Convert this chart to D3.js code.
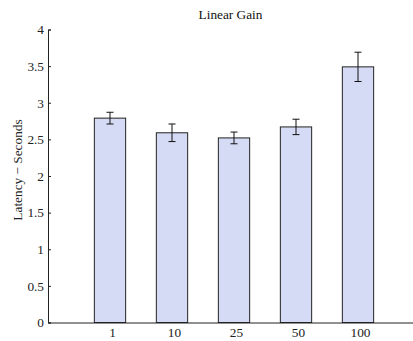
<!DOCTYPE html>
<html><head><meta charset="utf-8">
<script src="https://cdn.jsdelivr.net/npm/d3@7"></script>
<style>body{margin:0;background:#fff}svg{display:block}text{font-family:"Liberation Serif","Times New Roman",serif}</style>
</head><body>
<script>
const categories = ["1","10","25","50","100"];
const values = [2.79, 2.59, 2.52, 2.67, 3.49];
const errors = [0.08, 0.12, 0.08, 0.105, 0.2];
const yTicks = [0,0.5,1,1.5,2,2.5,3,3.5,4];
const yTickLabels = ["0","0.5","1","1.5","2","2.5","3","3.5","4"];

(function(){
const W=413,H=341;
const svg=d3.select("body").append("svg").attr("width",W).attr("height",H);
const mLeft=48, mRight=420, mTop=29.5, mBottom=322.5;
const x=d3.scaleLinear().domain([0,6]).range([mLeft,mRight]);
const y=d3.scaleLinear().domain([0,4]).range([mBottom,mTop]);
const bw=x(0.505)-x(0);
const fs=13.3;

svg.selectAll("rect.bar").data(values).join("rect").attr("class","bar")
  .attr("x",(d,i)=>x(i+1)-bw/2).attr("y",d=>y(d))
  .attr("width",bw).attr("height",d=>y(0)-y(d))
  .attr("fill","#d5dbf4").attr("stroke","#222").attr("stroke-width",1);

const eg=svg.append("g").attr("stroke","#111").attr("stroke-width",1);
values.forEach((v,i)=>{
  const cx=x(i+1), cap=3.5;
  eg.append("line").attr("x1",cx).attr("x2",cx).attr("y1",y(v-errors[i])).attr("y2",y(v+errors[i]));
  eg.append("line").attr("x1",cx-cap).attr("x2",cx+cap).attr("y1",y(v+errors[i])).attr("y2",y(v+errors[i]));
  eg.append("line").attr("x1",cx-cap).attr("x2",cx+cap).attr("y1",y(v-errors[i])).attr("y2",y(v-errors[i]));
});

const ya=d3.axisLeft(y).tickValues(yTicks).tickFormat((d,i)=>yTickLabels[i]).tickSize(-3).tickPadding(4);
const gy=svg.append("g").attr("transform",`translate(${mLeft},0)`).call(ya);
gy.attr("font-family",null);
gy.select(".domain").attr("stroke","#222");
gy.selectAll("line").attr("stroke","#222");
gy.selectAll("text").attr("font-size",fs).attr("fill","#222");

const xa=d3.axisBottom(x).tickValues([1,2,3,4,5]).tickFormat((d,i)=>categories[i]).tickSize(0).tickPadding(5);
const gx=svg.append("g").attr("transform",`translate(0,${mBottom})`).call(xa);
gx.attr("font-family",null);
gx.select(".domain").attr("stroke","#222");
gx.selectAll("text").attr("font-size",fs).attr("fill","#222").attr("dx",2);

svg.append("text").attr("x",(mLeft+413)/2).attr("y",19).attr("text-anchor","middle")
  .attr("font-size",fs).attr("fill","#111").text("Linear Gain");
svg.append("text").attr("transform",`translate(22,170) rotate(-90)`).attr("text-anchor","middle")
  .attr("font-size",fs).attr("fill","#222").text("Latency − Seconds");
})();
</script>
</body></html>
